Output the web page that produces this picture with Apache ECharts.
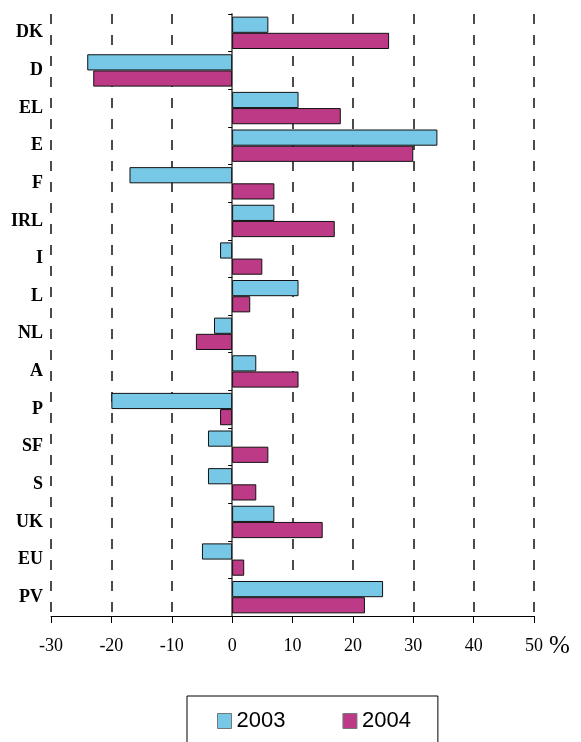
<!DOCTYPE html>
<html>
<head>
<meta charset="utf-8">
<style>
html,body{margin:0;padding:0;background:#fff;}
#chart{width:581px;height:742px;}
</style>
<script src="https://cdn.jsdelivr.net/npm/echarts@6/dist/echarts.min.js"></script>
</head>
<body>
<div id="chart"></div>
<script>
var categories = ['DK','D','EL','E','F','IRL','I','L','NL','A','P','SF','S','UK','EU','PV'];
var values2003 = [6, -24, 11, 34, -17, 7, -2, 11, -3, 4, -20, -4, -4, 7, -5, 25];
var values2004 = [26, -23, 18, 30, 7, 17, 5, 3, -6, 11, -2, 6, 4, 15, 2, 22];
var seriesNames = ['2003', '2004'];
var xTicks = {min: -30, max: 50, interval: 10};

var gridLeft = 51, gridRight = 47, chartWidth = 581;
var plotWidth = chartWidth - gridLeft - gridRight;
// offset of the zero category axis from the left edge, from the value scale
var zeroOffset = -plotWidth * (0 - xTicks.min) / (xTicks.max - xTicks.min);

var chart = echarts.init(document.getElementById('chart'), null, {renderer: 'canvas'});
var option = {
  animation: false,
  backgroundColor: '#ffffff',
  grid: {left: gridLeft, right: gridRight, top: 14, bottom: 126, containLabel: false},
  legend: {
    data: seriesNames,
    left: 187, top: 696,
    orient: 'horizontal',
    itemWidth: 14, itemHeight: 15, itemGap: 57,
    padding: [14, 27, 40, 30],
    borderColor: '#000', borderWidth: 1,
    icon: 'rect',
    itemStyle: {borderColor: '#777', borderWidth: 1},
    textStyle: {fontFamily: 'Liberation Sans', fontSize: 22, color: '#000'}
  },
  xAxis: {
    type: 'value',
    min: xTicks.min, max: xTicks.max, interval: xTicks.interval,
    name: '%',
    nameLocation: 'end',
    nameGap: 14,
    nameTextStyle: {fontFamily: 'Liberation Serif', fontSize: 25, color: '#000', verticalAlign: 'top', padding: [18, 0, 0, 0]},
    axisLine: {show: true, onZero: false, lineStyle: {color: '#000', width: 1}},
    axisTick: {show: true, length: 7, lineStyle: {color: '#000', width: 1}},
    axisLabel: {fontFamily: 'Liberation Serif', fontSize: 18, color: '#000', margin: 21},
    splitLine: {show: true, lineStyle: {color: '#111', width: 1.5, type: [10, 11]}}
  },
  yAxis: [
    {
      type: 'category', data: categories, inverse: true, position: 'left',
      axisLine: {show: false}, axisTick: {show: false},
      axisLabel: {fontFamily: 'Liberation Serif', fontWeight: 'bold', fontSize: 18, color: '#000', margin: 8},
      splitLine: {show: false}
    },
    {
      type: 'category', data: categories, inverse: true, position: 'left',
      offset: zeroOffset,
      axisLine: {show: true, onZero: false, lineStyle: {color: '#777', width: 2}},
      axisTick: {show: true, length: 4, alignWithLabel: false, lineStyle: {color: '#000', width: 1}},
      axisLabel: {show: false},
      splitLine: {show: false}
    }
  ],
  series: [
    {
      name: seriesNames[0], type: 'bar', yAxisIndex: 0, data: values2003,
      barGap: '0%', barCategoryGap: '14%',
      itemStyle: {color: '#77C8E6', borderColor: '#111', borderWidth: 1}
    },
    {
      name: seriesNames[1], type: 'bar', yAxisIndex: 0, data: values2004,
      barGap: '0%', barCategoryGap: '14%',
      itemStyle: {color: '#BC3A86', borderColor: '#111', borderWidth: 1}
    }
  ]
};
chart.setOption(option);
</script>
</body>
</html>
